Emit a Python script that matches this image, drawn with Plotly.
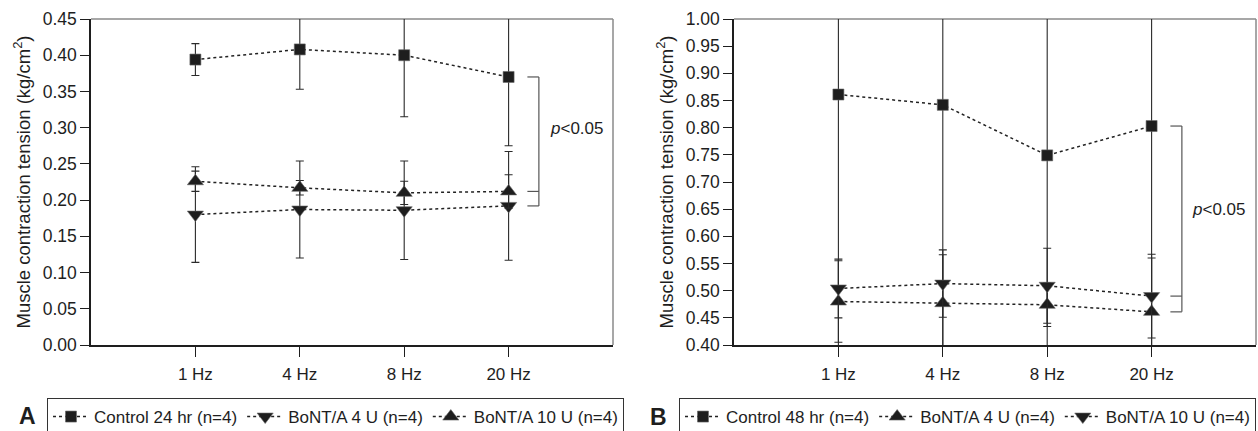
import plotly.graph_objects as go

# ---------------- data ----------------
freq_labels = ["1 Hz", "4 Hz", "8 Hz", "20 Hz"]
freq_pos = [1, 2, 3, 4]

# Panel A (24 hr)
a_control = [0.394, 0.408, 0.400, 0.370]
a_control_err = [0.022, 0.055, 0.085, 0.095]
a_bont4 = [0.180, 0.187, 0.186, 0.192]      # BoNT/A 4 U (down triangle)
a_bont4_err = [0.066, 0.067, 0.068, 0.075]
a_bont10 = [0.226, 0.217, 0.210, 0.212]     # BoNT/A 10 U (up triangle)
a_bont10_err = [0.014, 0.010, 0.016, 0.023]

# Panel B (48 hr)
b_control = [0.861, 0.842, 0.749, 0.803]
b_control_err = [0.50, 0.50, 0.50, 0.50]
b_bont4 = [0.480, 0.477, 0.474, 0.461]      # BoNT/A 4 U (up triangle)
b_bont4_err = [0.075, 0.089, 0.040, 0.099]
b_bont10 = [0.504, 0.513, 0.509, 0.490]     # BoNT/A 10 U (down triangle)
b_bont10_err = [0.054, 0.062, 0.069, 0.077]

names_a = ["Control 24 hr (n=4)", "BoNT/A 4 U (n=4)", "BoNT/A 10 U (n=4)"]
names_b = ["Control 48 hr (n=4)", "BoNT/A 4 U (n=4)", "BoNT/A 10 U (n=4)"]
y_title = "Muscle contraction tension (kg/cm<sup>2</sup>)"
p_text = "<i>p</i>&lt;0.05"

# ---------------- style ----------------
FONT = "Liberation Sans, Arial, sans-serif"
INK = "#1e1e1e"
W, H = 1258, 431

fig = go.Figure()


def add(series, err, name, symbol, size, xa, ya, legend):
    fig.add_trace(go.Scatter(
        x=freq_pos, y=series, mode="lines+markers", name=name,
        line=dict(color="#222222", width=1.5, dash="dot"),
        marker=dict(symbol=symbol, size=size, color=INK,
                    line=dict(width=0.6, color="#666666")),
        error_y=dict(type="data", array=err, color="#2a2a2a",
                     thickness=1.1, width=4),
        xaxis=xa, yaxis=ya, legend=legend,
    ))


add(a_control, a_control_err, names_a[0], "square", 11, "x", "y", "legend")
add(a_bont4, a_bont4_err, names_a[1], "triangle-down", 14, "x", "y", "legend")
add(a_bont10, a_bont10_err, names_a[2], "triangle-up", 14, "x", "y", "legend")

add(b_control, b_control_err, names_b[0], "square", 11, "x2", "y2", "legend2")
add(b_bont4, b_bont4_err, names_b[1], "triangle-up", 14, "x2", "y2", "legend2")
add(b_bont10, b_bont10_err, names_b[2], "triangle-down", 14, "x2", "y2", "legend2")

ydom = [(H - 345) / H, (H - 19) / H]
common_x = dict(range=[0, 5], tickvals=freq_pos, ticktext=freq_labels,
                ticks="outside", ticklen=10, tickcolor=INK, tickwidth=1,
                showline=True, linecolor=INK, linewidth=1.5,
                showgrid=False, zeroline=False, fixedrange=True,
                tickfont=dict(family=FONT, size=17, color=INK),
                ticklabelstandoff=3, automargin=False)
common_y = dict(dtick=0.05, tickformat=".2f", ticks="outside", ticklen=9,
                tickcolor=INK, tickwidth=1, showline=True, linecolor=INK,
                linewidth=1.5, showgrid=False, zeroline=False,
                domain=ydom, automargin=False,
                tickfont=dict(family=FONT, size=17.5, color=INK),
                title=dict(text=y_title, font=dict(family=FONT, size=18.5, color=INK),
                           standoff=7))

legend_common = dict(orientation="h", xanchor="left", y=(H - 398) / H, yanchor="top",
                     bordercolor="#333333", borderwidth=1, bgcolor="white",
                     itemwidth=36, font=dict(family=FONT, size=17, color=INK))

fig.update_layout(
    width=W, height=H, margin=dict(l=0, r=0, t=0, b=0, autoexpand=False),
    paper_bgcolor="white", plot_bgcolor="white",
    font=dict(family=FONT, size=17, color=INK),
    xaxis=dict(domain=[91 / W, 613 / W], anchor="y", **common_x),
    yaxis=dict(range=[0, 0.45], tick0=0, anchor="x", **common_y),
    xaxis2=dict(domain=[734 / W, 1256 / W], anchor="y2", **common_x),
    yaxis2=dict(range=[0.40, 1.00], tick0=0.4, anchor="x2", **common_y),
    legend=dict(x=47 / W, **legend_common),
    legend2=dict(x=679 / W, **legend_common),
    showlegend=True,
)

# gray top/right frame lines
for xr, yr in (("x domain", "y domain"), ("x2 domain", "y2 domain")):
    fig.add_shape(type="line", xref=xr, yref=yr, x0=0, x1=1, y0=1, y1=1,
                  line=dict(color="#8a8a8a", width=1.5), layer="below")
    fig.add_shape(type="line", xref=xr, yref=yr, x0=1, x1=1, y0=0, y1=1,
                  line=dict(color="#8a8a8a", width=1.5), layer="below")

# significance brackets (built from the data at 20 Hz)
BR_X0, BR_X1 = 4.18, 4.29


def bracket(xr, yr, top, mid, bottom):
    kw = dict(xref=xr, yref=yr, line=dict(color="#555555", width=1.2))
    fig.add_shape(type="line", x0=BR_X1, x1=BR_X1, y0=bottom, y1=top, **kw)
    for yv in (top, mid, bottom):
        fig.add_shape(type="line", x0=BR_X0, x1=BR_X1, y0=yv, y1=yv, **kw)


bracket("x", "y", a_control[-1], a_bont10[-1], a_bont4[-1])
bracket("x2", "y2", b_control[-1], b_bont10[-1], b_bont4[-1])

fig.add_annotation(x=4.655, y=0.2995, xref="x", yref="y", text=p_text,
                   showarrow=False, font=dict(family=FONT, size=17, color=INK))
fig.add_annotation(x=4.645, y=0.650, xref="x2", yref="y2", text=p_text,
                   showarrow=False, font=dict(family=FONT, size=17, color=INK))

# panel letters
fig.add_annotation(x=28 / W, y=(H - 416) / H, xref="paper", yref="paper",
                   xanchor="center", yanchor="middle",
                   text="<b>A</b>", showarrow=False,
                   font=dict(family=FONT, size=23, color=INK))
fig.add_annotation(x=658 / W, y=(H - 417) / H, xref="paper", yref="paper",
                   xanchor="center", yanchor="middle",
                   text="<b>B</b>", showarrow=False,
                   font=dict(family=FONT, size=23, color=INK))

fig.write_html("out.html", config={"displayModeBar": False},
               post_script="document.body.style.margin='0';document.body.style.overflow='hidden';")
